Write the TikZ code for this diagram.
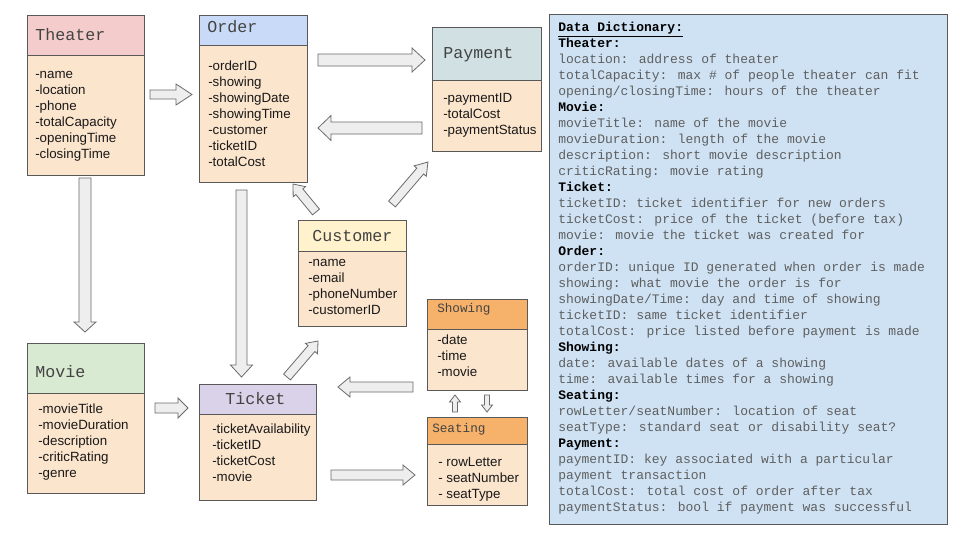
\documentclass[tikz,border=0pt]{standalone}
\usepackage{fontspec}
\setmainfont{Liberation Sans}
\newfontfamily\monof{Liberation Mono}
\usetikzlibrary{calc}
\definecolor{bodyc}{HTML}{FCE5CD}
\definecolor{thc}{HTML}{F4CCCC}
\definecolor{orc}{HTML}{C9DAF8}
\definecolor{pac}{HTML}{D0E0E3}
\definecolor{cuc}{HTML}{FFF2CC}
\definecolor{moc}{HTML}{D9EAD3}
\definecolor{tic}{HTML}{D9D2E9}
\definecolor{shc}{HTML}{F6B26B}
\definecolor{ddc}{HTML}{CFE2F3}
\definecolor{bordc}{HTML}{595959}
\definecolor{ttlc}{HTML}{434343}
\definecolor{dtxt}{HTML}{5F5F5F}
\definecolor{arrf}{HTML}{EEEEEE}
\definecolor{arrd}{HTML}{6B6B6B}
\newcommand\blockarrow[5]{%
  \coordinate (bah) at ($(#2)!#5*0.75pt!(#1)$);
  \draw[blockarr] ($(#1)!#3*0.75pt!90:(#2)$) -- ($(bah)!#3*0.75pt!90:(#2)$) -- ($(bah)!#4*0.75pt!90:(#2)$) -- (#2) -- ($(bah)!#4*0.75pt!-90:(#2)$) -- ($(bah)!#3*0.75pt!-90:(#2)$) -- ($(#1)!#3*0.75pt!-90:(#2)$) -- cycle;}
\newcommand\dd[1]{{\color{dtxt}#1}}
\tikzset{
  boxr/.style={draw=bordc, line width=0.75pt, inner sep=0pt, outer sep=0pt, anchor=north west},
  ttl/.style={anchor=base west, inner sep=0pt, text=ttlc, font=\monof\fontsize{12.5}{14}\selectfont},
  sttl/.style={anchor=base west, inner sep=0pt, text=ttlc, font=\monof\fontsize{9.5}{12}\selectfont},
  attr/.style={anchor=north west, align=left, inner sep=0pt, text=black!90, font=\fontsize{10}{12}\selectfont},
  dict/.style={anchor=north west, align=left, inner sep=0pt, font=\monof\fontsize{9.75}{12}\selectfont},
  blockarr/.style={draw=arrd, fill=arrf, line width=0.6pt, line join=miter}
}
\begin{document}
\begin{tikzpicture}[x=0.75pt, y=-0.75pt]
\useasboundingbox (0,0) rectangle (960,540);
\fill[white] (0,0) rectangle (960,540);

% Theater
\node[boxr, fill=bodyc, minimum width=117*0.75pt, minimum height=160*0.75pt] (thB) at (27,15) {};
\node[boxr, fill=thc, minimum width=117*0.75pt, minimum height=40*0.75pt] (thH) at (27,15) {};
\node[ttl] (thN) at (35,40) {Theater};
\node[attr] (thA) at (35,67.3) {\strut-name\\-location\\-phone\\-totalCapacity\\-openingTime\\-closingTime};

% Order
\node[boxr, fill=bodyc, minimum width=108*0.75pt, minimum height=167*0.75pt] (orB) at (199,15) {};
\node[boxr, fill=orc, minimum width=108*0.75pt, minimum height=30*0.75pt] (orH) at (199,15) {};
\node[ttl] (orN) at (207,32) {Order};
\node[attr] (orA) at (208,59.3) {\strut-orderID\\-showing\\-showingDate\\-showingTime\\-customer\\-ticketID\\-totalCost};

% Payment
\node[boxr, fill=bodyc, minimum width=109*0.75pt, minimum height=124*0.75pt] (paB) at (432,27) {};
\node[boxr, fill=pac, minimum width=109*0.75pt, minimum height=53*0.75pt] (paH) at (432,27) {};
\node[ttl] (paN) at (443,58) {Payment};
\node[attr] (paA) at (443,91.3) {\strut-paymentID\\-totalCost\\-paymentStatus};

% Customer
\node[boxr, fill=bodyc, minimum width=108*0.75pt, minimum height=106*0.75pt] (cuB) at (298,220) {};
\node[boxr, fill=cuc, minimum width=108*0.75pt, minimum height=31*0.75pt] (cuH) at (298,220) {};
\node[ttl] (cuN) at (312,241) {Customer};
\node[attr] (cuA) at (308,255.3) {\strut-name\\-email\\-phoneNumber\\-customerID};

% Movie
\node[boxr, fill=bodyc, minimum width=117*0.75pt, minimum height=150*0.75pt] (moB) at (27,343) {};
\node[boxr, fill=moc, minimum width=117*0.75pt, minimum height=50*0.75pt] (moH) at (27,343) {};
\node[ttl] (moN) at (35,377) {Movie};
\node[attr] (moA) at (38,402.3) {\strut-movieTitle\\-movieDuration\\-description\\-criticRating\\-genre};

% Ticket
\node[boxr, fill=bodyc, minimum width=117*0.75pt, minimum height=116*0.75pt] (tiB) at (199,384) {};
\node[boxr, fill=tic, minimum width=117*0.75pt, minimum height=30*0.75pt] (tiH) at (199,384) {};
\node[ttl] (tiN) at (225,404) {Ticket};
\node[attr] (tiA) at (212,422.3) {\strut-ticketAvailability\\-ticketID\\-ticketCost\\-movie};

% Showing
\node[boxr, fill=bodyc, minimum width=100*0.75pt, minimum height=91*0.75pt] (shB) at (427,299) {};
\node[boxr, fill=shc, minimum width=100*0.75pt, minimum height=30*0.75pt] (shH) at (427,299) {};
\node[sttl] (shN) at (437,312) {Showing};
\node[attr] (shA) at (437,333.3) {\strut-date\\-time\\-movie};

% Seating
\node[boxr, fill=bodyc, minimum width=100*0.75pt, minimum height=88*0.75pt] (seB) at (427,417) {};
\node[boxr, fill=shc, minimum width=100*0.75pt, minimum height=27*0.75pt] (seH) at (427,417) {};
\node[sttl] (seN) at (432,432) {Seating};
\node[attr] (seA) at (438,455.3) {\strut- rowLetter\\- seatNumber\\- seatType};

% Data dictionary
\node[boxr, fill=ddc, minimum width=398*0.75pt, minimum height=510*0.75pt] (ddB) at (549,14) {};
\node[dict] (ddT) at (558,19.8) {\strut\textbf{\underline{Data Dictionary:}}\\
\textbf{Theater:}\\
\dd{location: address of theater}\\
\dd{totalCapacity: max \# of people theater can fit}\\
\dd{opening/closingTime: hours of the theater}\\
\textbf{Movie:}\\
\dd{movieTitle: name of the movie}\\
\dd{movieDuration: length of the movie}\\
\dd{description: short movie description}\\
\dd{criticRating: movie rating}\\
\textbf{Ticket:}\\
\dd{ticketID: ticket identifier for new orders}\\
\dd{ticketCost: price of the ticket (before tax)}\\
\dd{movie: movie the ticket was created for}\\
\textbf{Order:}\\
\dd{orderID: unique ID generated when order is made}\\
\dd{showing: what movie the order is for}\\
\dd{showingDate/Time: day and time of showing}\\
\dd{ticketID: same ticket identifier}\\
\dd{totalCost: price listed before payment is made}\\
\textbf{Showing:}\\
\dd{date: available dates of a showing}\\
\dd{time: available times for a showing}\\
\textbf{Seating:}\\
\dd{rowLetter/seatNumber: location of seat}\\
\dd{seatType: standard seat or disability seat?}\\
\textbf{Payment:}\\
\dd{paymentID: key associated with a particular}\\
\dd{payment transaction}\\
\dd{totalCost: total cost of order after tax}\\
\dd{paymentStatus: bool if payment was successful}};

% arrow end points
\coordinate (a1s) at (150,94.5);  \coordinate (a1e) at (192,94.5);
\coordinate (a2s) at (318,60);    \coordinate (a2e) at (425,60);
\coordinate (a3s) at (422,128);   \coordinate (a3e) at (318,128);
\coordinate (a4s) at (392,204);   \coordinate (a4e) at (428,162);
\coordinate (a5s) at (316,212);   \coordinate (a5e) at (293,184);
\coordinate (a6s) at (241.5,190); \coordinate (a6e) at (241.5,377);
\coordinate (a7s) at (85,178);    \coordinate (a7e) at (85,332);
\coordinate (a8s) at (155,408);   \coordinate (a8e) at (188,408);
\coordinate (a9s) at (287,377);   \coordinate (a9e) at (318,341);
\coordinate (a10s) at (413,387);  \coordinate (a10e) at (338,387);
\coordinate (a11s) at (331,475);  \coordinate (a11e) at (415,475);
\coordinate (a12s) at (455,412);  \coordinate (a12e) at (455,395);
\coordinate (a13s) at (487,395);  \coordinate (a13e) at (487,412);

\blockarrow{a1s}{a1e}{4.5}{10.5}{16}
\blockarrow{a2s}{a2e}{6}{12}{13}
\blockarrow{a3s}{a3e}{6}{12.5}{13}
\blockarrow{a4s}{a4e}{4.5}{8}{12}
\blockarrow{a5s}{a5e}{4.5}{8}{10}
\blockarrow{a6s}{a6e}{5.5}{11}{12}
\blockarrow{a7s}{a7e}{6}{11}{10}
\blockarrow{a8s}{a8e}{5}{10}{10}
\blockarrow{a9s}{a9e}{4.5}{8}{10}
\blockarrow{a10s}{a10e}{5}{10}{12}
\blockarrow{a11s}{a11e}{5}{10}{12}
\blockarrow{a12s}{a12e}{2.5}{5.5}{7}
\blockarrow{a13s}{a13e}{2.5}{5.5}{7}
\end{tikzpicture}
\end{document}
